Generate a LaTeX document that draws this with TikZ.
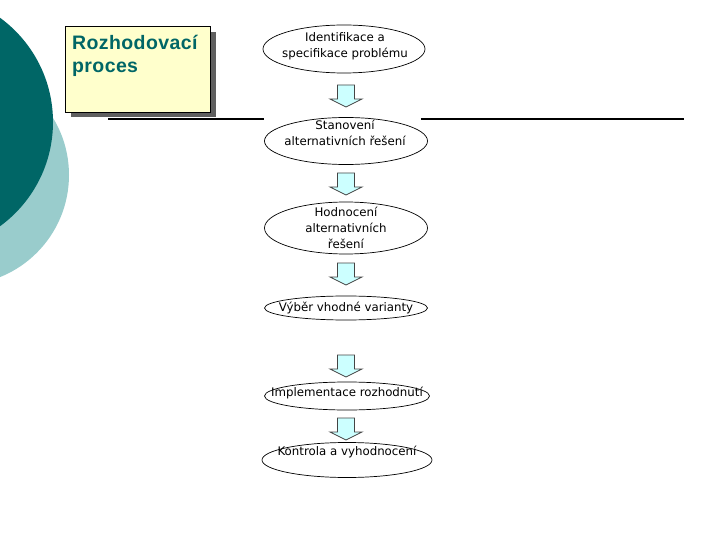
\documentclass[tikz,border=0pt]{standalone}
\usepackage{fontspec}
\setmainfont{DejaVu Sans}
\newfontfamily\titlefont[LetterSpace=2]{Liberation Sans}
\definecolor{darkteal}{HTML}{006666}
\definecolor{lightteal}{HTML}{99CCCC}
\definecolor{titlefill}{HTML}{FFFFCC}
\definecolor{arrowfill}{HTML}{CCFFFF}
\definecolor{arrowline}{HTML}{444444}
\definecolor{shadowgrey}{HTML}{5F5F5F}
\tikzset{
  stepoval/.style={ellipse, draw=black, line width=0.7pt, fill=white, inner sep=0pt},
  steptext/.style={align=center, font=\fontsize{11.8}{16}\selectfont, inner sep=0pt},
  arrowstyle/.style={draw=arrowline, fill=arrowfill, line width=0.8pt, line join=miter},
  downarrow/.pic={\draw[arrowstyle] (-8.5,-11) -- (8.5,-11) -- (8.5,3) -- (16,3) -- (0,11) -- (-16,3) -- (-8.5,3) -- cycle;},
  rule/.style={line width=2pt, black}
}
\usetikzlibrary{shapes.geometric}
\begin{document}
\begin{tikzpicture}[x=1pt,y=-1pt]
\useasboundingbox (0,0) rectangle (720,540);
\clip (0,0) rectangle (720,540);
% background circles
\fill[lightteal] (-41,175) circle (110);
\fill[darkteal] (-76,122) circle (129);
% title box
\fill[shadowgrey] (71,32) rectangle (216,117);
\node[draw=black, line width=0.8pt, fill=titlefill, minimum width=145pt, minimum height=86pt, anchor=north west, inner sep=0pt] (title) at (65,26) {};
\node[anchor=north west, align=left, text=darkteal, font=\titlefont\bfseries\fontsize{19.5}{23.5}\selectfont, inner sep=0pt] (titletext) at (72,35) {Rozhodovací\\proces};
% ellipses
\node[stepoval, minimum width=162pt, minimum height=48pt] (e1) at (344,49) {};
\node[stepoval, minimum width=163pt, minimum height=47pt] (e2) at (346,141) {};
\node[stepoval, minimum width=163pt, minimum height=52pt] (e3) at (346,228) {};
\node[stepoval, minimum width=163pt, minimum height=24pt] (e4) at (346,308) {};
\node[stepoval, minimum width=165pt, minimum height=28pt] (e5) at (347,396) {};
\node[stepoval, minimum width=170pt, minimum height=35pt] (e6) at (347,460) {};
% rule
\coordinate (rl) at (108,119);
\coordinate (rr) at (684,119);
\draw[rule] (rl) -- (e2.west |- rl);
\draw[rule] (e2.east |- rr) ++(-7,0) -- (rr);
% texts
\node[steptext] (t1) at (345,46) {Identifikace a\\specifikace problému};
\node[steptext] (t2) at (345,133) {Stanovení\\alternativních řešení};
\node[steptext] (t3) at (346,228) {Hodnocení\\alternativních\\řešení};
\node[steptext] (t4) at (346,308) {Výběr vhodné varianty};
\node[steptext] (t5) at (347,393) {Implementace rozhodnutí};
\node[steptext] (t6) at (347,452) {Kontrola a vyhodnocení};
% block arrows
\pic at (346,96) {downarrow};
\pic at (346,184) {downarrow};
\pic at (346,274) {downarrow};
\pic at (346,366) {downarrow};
\pic at (346,429) {downarrow};
\end{tikzpicture}
\end{document}
